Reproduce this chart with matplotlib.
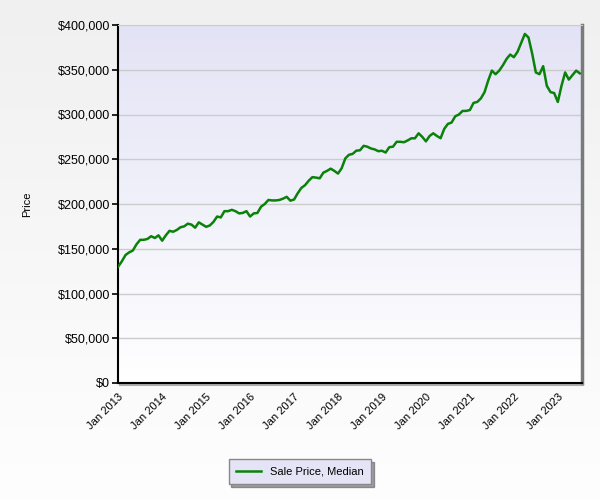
import numpy as np
import matplotlib.pyplot as plt
import matplotlib.patheffects as pe

plt.rcParams['font.family'] = ['Liberation Sans', 'DejaVu Sans']

# monthly median sale price (thousands), Jan 2013 .. Jul 2023
price_k = [130, 136, 143, 146, 148, 155, 160, 160, 161, 164, 162, 165,
           159, 165, 170, 169, 171, 174, 175, 178, 177, 173.5, 179.5, 177,
           174.5, 176, 180, 186, 185, 192, 192, 193.5, 192, 189.5, 190, 192,
           186, 189.5, 190, 197, 200, 204.5, 204, 204, 204.5, 206, 208, 203.7,
           205, 212, 218, 221, 226, 230, 229.5, 228.7, 235, 237, 239.5, 237,
           234, 240, 251, 255, 256, 259.6, 260, 265, 264, 262, 261, 259,
           259.5, 257.5, 263.5, 264, 269.5, 269.5, 269, 271, 273.4, 273.4, 279, 275,
           270, 276, 279, 276, 273.5, 284, 289.5, 291, 298, 300, 304, 304,
           305, 313, 314, 318, 325, 338, 349, 345, 349, 355, 362, 367,
           364, 370, 380, 390, 386, 368, 347, 345, 354, 332, 325, 324,
           314, 332, 347, 339, 344, 349, 346]
years = ['2013', '2014', '2015', '2016', '2017', '2018', '2019', '2020', '2021', '2022', '2023']
yticks = [0, 50000, 100000, 150000, 200000, 250000, 300000, 350000, 400000]

months = np.arange(len(price_k))
price = np.array(price_k) * 1000

fig = plt.figure(figsize=(6, 5), dpi=100)

# figure background gradient
bg = fig.add_axes([0, 0, 1, 1], zorder=-10)
grad = np.linspace(0, 1, 256).reshape(-1, 1)
bg.imshow(grad, extent=[0, 1, 0, 1], aspect='auto', cmap=plt.matplotlib.colors.LinearSegmentedColormap.from_list('f', ['#fefefe', '#f0f0f0']), origin='lower')
bg.axis('off')

ax = fig.add_axes([0.197, 0.234, 0.773, 0.716])
ax.set_facecolor('none')
ax.imshow(grad, extent=[0, 1, 0, 1], transform=ax.transAxes, aspect='auto', zorder=0,
          cmap=plt.matplotlib.colors.LinearSegmentedColormap.from_list('a', ['#ffffff', '#e3e3f6']), origin='lower')

ax.plot(months, price, color='#0a820a', lw=1.8, label='Sale Price, Median', zorder=3,
        solid_joinstyle='round')

ax.set_xlim(0, 126.6)
ax.set_ylim(0, 400000)

year_pos = [12 * i for i in range(len(years))]
ax.set_xticks(year_pos)
ax.set_xticklabels(['Jan ' + y for y in years], rotation=45, ha='right', rotation_mode='anchor', fontsize=8)
ax.set_xticks(year_pos[1::2], minor=True)
ax.tick_params(axis='x', which='major', length=0, pad=6)
ax.tick_params(axis='x', which='minor', length=4, width=1.2, color='black')
ax.grid(True, axis='x', which='minor', color='#cccccc', lw=1, zorder=1)

ax.set_yticks(yticks)
ax.set_yticklabels(['$' + format(v, ',') for v in yticks], fontsize=9)
ax.tick_params(axis='y', length=4, width=1.2, pad=2)
ax.grid(True, axis='y', color='#cccccc', lw=1, zorder=1)
ax.set_axisbelow(True)

ax.set_ylabel('Price', fontsize=8)
ax.yaxis.set_label_coords(-0.185, 0.5)

ax.spines['left'].set_linewidth(1.5)
ax.spines['bottom'].set_linewidth(1.5)
ax.spines['top'].set_color('#cccccc')
ax.spines['right'].set_color('#7a7a7a')
ax.spines['right'].set_linewidth(2.5)
ax.spines['bottom'].set_path_effects([pe.SimpleLineShadow(offset=(1, -1.5), shadow_color='#999999', alpha=0.8), pe.Normal()])

leg = fig.legend(loc='center', bbox_to_anchor=(0.5, 0.057), fontsize=8, frameon=True,
                 fancybox=False, shadow=True, borderpad=0.7, handlelength=2.2)
leg.get_frame().set_facecolor('#e4e4f6')
leg.get_frame().set_edgecolor('#888888')
leg.get_frame().set_linewidth(1)
leg.get_frame().set_alpha(1)

fig.savefig('out.png', dpi=100)
